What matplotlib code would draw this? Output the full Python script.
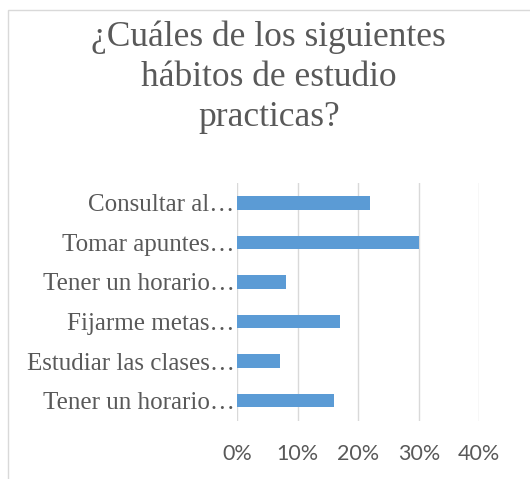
import matplotlib.pyplot as plt
from matplotlib.patches import Rectangle
from matplotlib.ticker import PercentFormatter

# data (top to bottom as shown)
categories = ["Consultar al…", "Tomar apuntes…", "Tener un horario…",
              "Fijarme metas…", "Estudiar las clases…", "Tener un horario…"]
values = [0.22, 0.30, 0.08, 0.17, 0.07, 0.16]
xticks = [0, 0.1, 0.2, 0.3, 0.4]

gray = "#595959"
blue = "#5B9BD5"

fig = plt.figure(figsize=(5.3, 4.79), dpi=100)
ax = fig.add_axes([0.4477, 0.1221, 0.4566, 0.4958])

# chart border (only left and top visible in the crop)
fig.patches.append(Rectangle((8 / 530, -0.1), 1.2, 1 - 10 / 479 + 0.1,
                             transform=fig.transFigure, fill=False,
                             edgecolor="#D9D9D9", linewidth=1.0))

pos = list(range(len(categories)))[::-1]
ax.barh(pos, values, height=0.34, color=blue, zorder=3)

ax.set_xlim(0, 0.4)
ax.set_ylim(-0.5, 5.5)
ax.set_xticks(xticks)
ax.xaxis.set_major_formatter(PercentFormatter(1.0, decimals=0))
ax.set_yticks(pos)
ax.set_yticklabels(categories, family="Liberation Serif", fontsize=18, color=gray)
for lab in ax.get_xticklabels():
    lab.set_family("Lato")
    lab.set_fontsize(15.5)
    lab.set_color(gray)

ax.tick_params(axis="both", length=0)
ax.tick_params(axis="x", pad=17)
ax.tick_params(axis="y", pad=2)
ax.grid(axis="x", color="#D9D9D9", linewidth=1.0, zorder=0)
for s in ax.spines.values():
    s.set_visible(False)

fig.text(0.507, 0.957, "¿Cuáles de los siguientes\nhábitos de estudio\npracticas?",
         ha="center", va="top", family="Liberation Serif", fontsize=25.5,
         color=gray, linespacing=1.27)

fig.savefig("out.png", dpi=100)
